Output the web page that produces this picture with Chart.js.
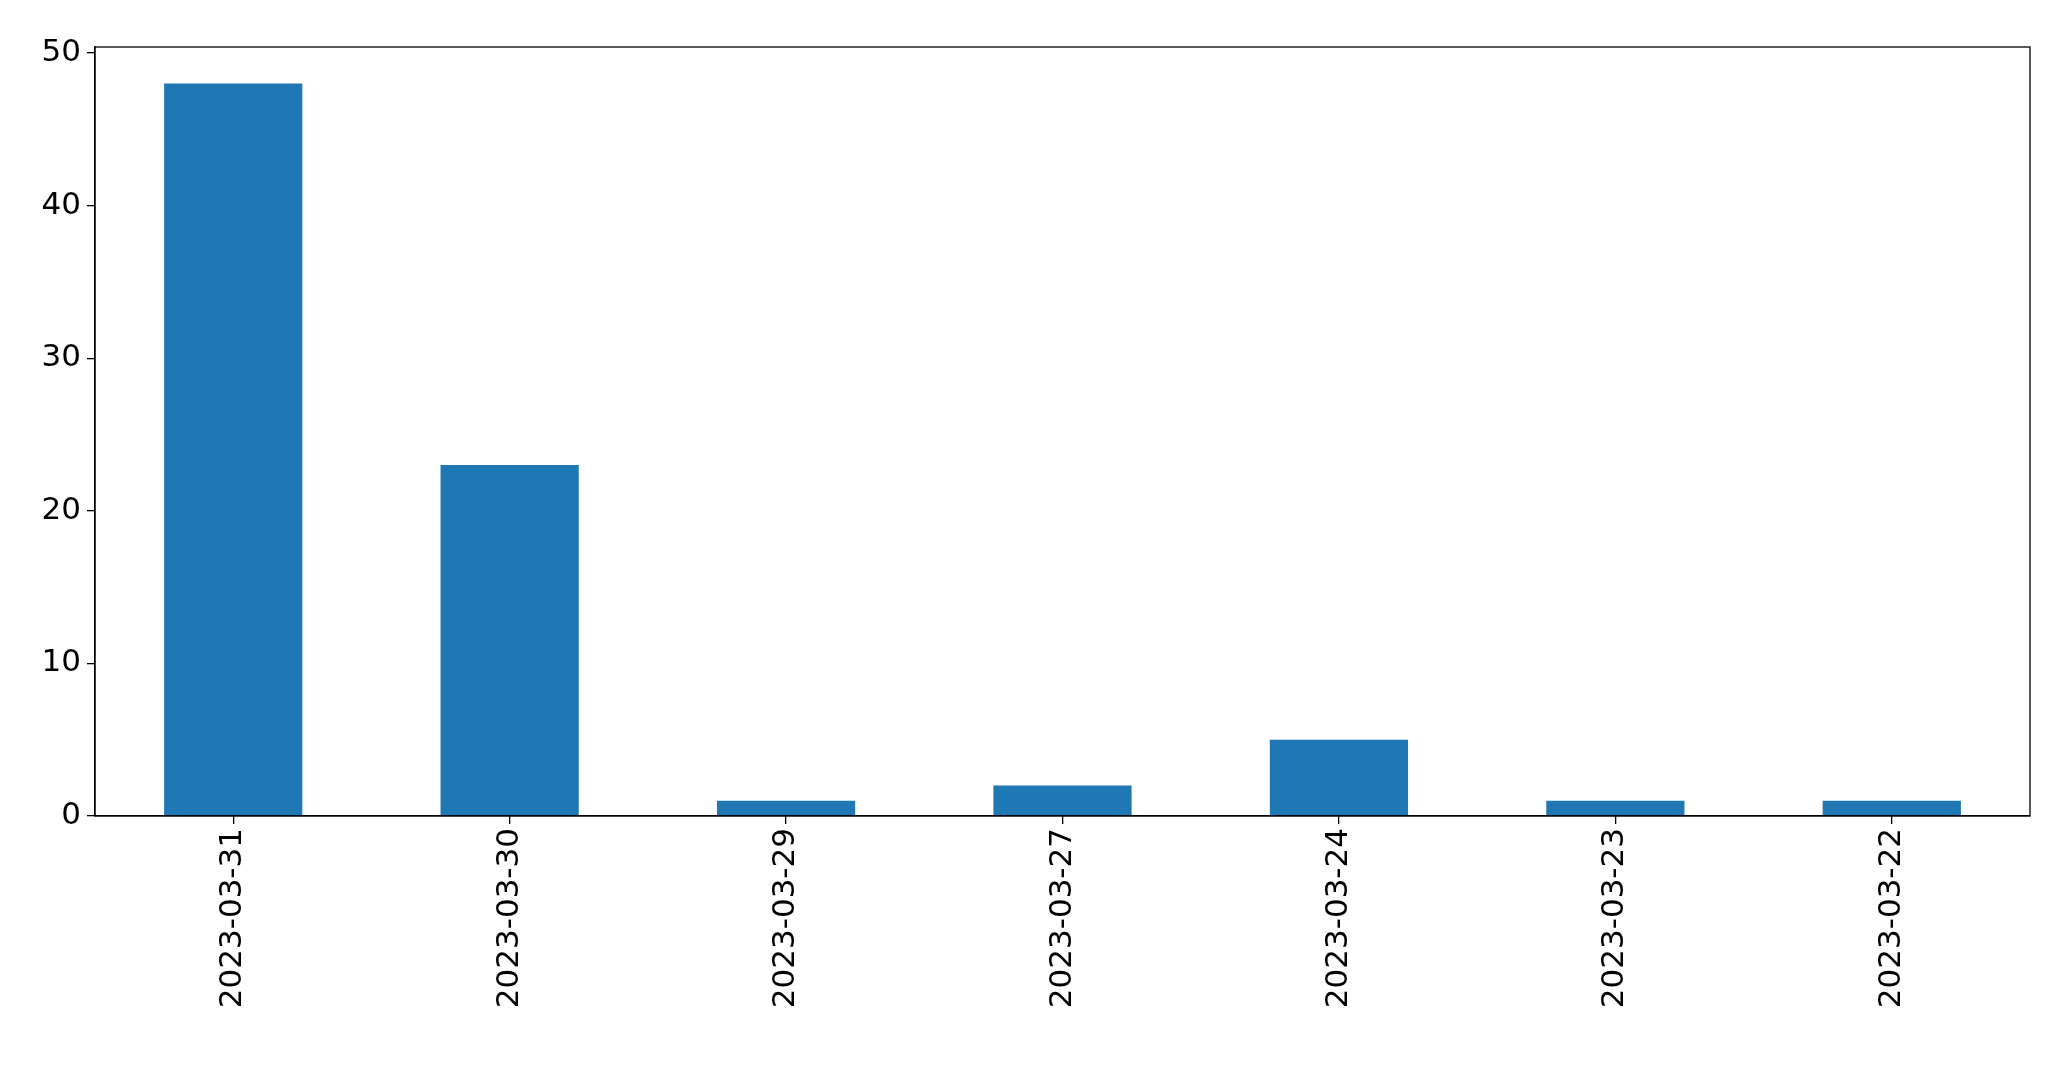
<!DOCTYPE html>
<html><head>
<script src="https://cdn.jsdelivr.net/npm/chart.js@4"></script>
<style>html,body{margin:0;padding:0;background:#fff}#w{width:2071px;height:1069px}</style>
</head><body><div id="w"><canvas id="c"></canvas></div>
<script>
const categories = ["2023-03-31","2023-03-30","2023-03-29","2023-03-27","2023-03-24","2023-03-23","2023-03-22"];
const values = [48, 23, 1, 2, 5, 1, 1];
const yTicks = [0, 10, 20, 30, 40, 50];
const font = {family: "DejaVu Sans", size: 31};
const boxPlugin = {id:'box', afterDraw(ch){const a=ch.chartArea,c=ch.ctx;c.save();c.strokeStyle='#000';c.lineWidth=1.3;c.strokeRect(a.left,a.top,a.right-a.left,a.bottom-a.top);c.restore();}};
new Chart(document.getElementById('c'), {
  type: 'bar',
  data: {labels: categories, datasets: [{data: values, backgroundColor: '#1f77b4', barPercentage: 0.5, categoryPercentage: 1}]},
  options: {
    responsive: true, maintainAspectRatio: false, animation: false,
    layout: {padding: {top: 47, right: 41, left: 0, bottom: 0}},
    plugins: {legend: {display: false}, tooltip: {enabled: false}},
    scales: {
      x: {
        grid: {drawOnChartArea: false, offset: false, tickLength: 8, color: '#000', lineWidth: 1.3},
        border: {color: '#000', width: 1.3},
        ticks: {color: '#000', font, maxRotation: 90, minRotation: 90, padding: 4},
        afterFit(s){ s.height = 253; }
      },
      y: {
        min: 0, max: 50.4,
        afterBuildTicks(s){ s.ticks = yTicks.map(v => ({value: v})); },
        grid: {drawOnChartArea: false, tickLength: 8, color: '#000', lineWidth: 1.3},
        border: {color: '#000', width: 1.3},
        ticks: {color: '#000', font, padding: 6},
        afterFit(s){ s.width = 95; }
      }
    }
  },
  plugins: [boxPlugin]
});
</script></body></html>
